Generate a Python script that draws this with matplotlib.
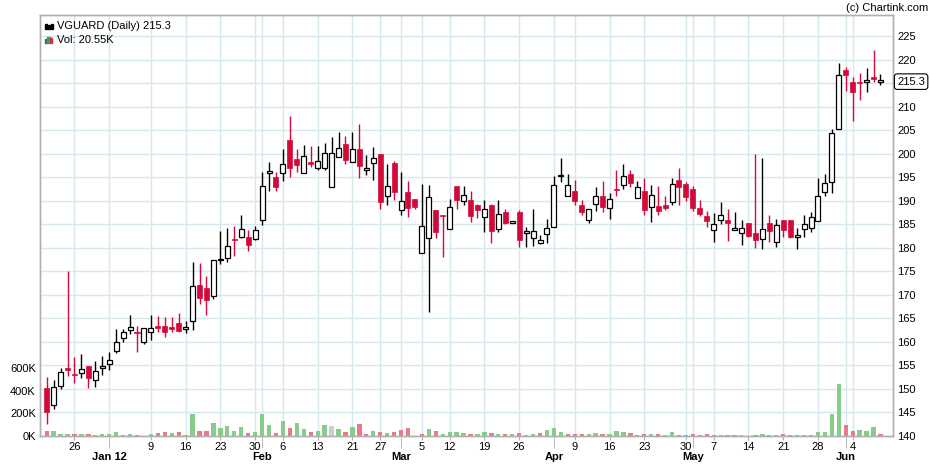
import matplotlib
matplotlib.use("Agg")
import matplotlib.pyplot as plt
from matplotlib.patches import Rectangle
import numpy as np

# daily OHLC (index 0 = first candle)
opens = [150.1, 146.6, 150.7, 154.4, 153.2, 153.34, 154.9, 151.85, 154.4, 155.26,
         158.1, 160.8, 162.5, 162.14, 159.87, 162.07, 163.4, 163.4, 163.0, 163.92,
         162.64, 164.35, 172.16, 171.5, 169.67, 177.4, 177.8, 181.7, 182.3, 182.3,
         181.84, 185.96, 195.96, 195.0, 195.96, 202.98, 198.9, 195.96, 198.3, 196.95,
         196.9, 193.0, 199.3, 202.06, 198.2, 201.0, 196.6, 198.0, 200.0, 191.0,
         198.1, 188.1, 191.9, 190.4, 178.9, 182.1, 188.1, 186.95, 183.97, 193.05,
         190.0, 190.07, 189.0, 186.6, 189.15, 183.97, 187.5, 185.18, 187.7, 183.2,
         182.1, 181.1, 183.0, 184.5, 195.2, 191.06, 192.1, 189.0, 185.96, 189.36,
         191.06, 188.4, 192.55, 193.4, 195.6, 190.6, 192.0, 188.7, 188.8, 189.0,
         189.7, 194.5, 193.5, 192.4, 188.5, 186.8, 183.7, 185.96, 186.0, 183.7,
         183.2, 185.2, 183.1, 181.76, 185.2, 181.2, 185.9, 185.9, 182.25, 183.95,
         184.2, 185.65, 191.95, 194.07, 205.25, 217.8, 215.16, 215.2, 215.16, 216.2,
         215.25]
highs = [152.6, 151.85, 154.4, 175.0, 156.8, 157.4, 154.9, 155.97, 157.0, 157.95,
         162.7, 162.7, 165.77, 163.4, 163.0, 165.77, 165.55, 165.2, 165.2, 166.05,
         164.35, 177.06, 176.7, 173.9, 177.5, 183.6, 184.3, 184.7, 187.0, 183.8,
         184.7, 196.2, 198.3, 196.0, 201.0, 208.1, 201.0, 201.9, 201.7, 201.7,
         202.3, 203.6, 204.7, 203.8, 204.7, 206.2, 199.7, 201.5, 200.0, 197.9,
         198.5, 196.0, 194.1, 190.4, 193.5, 193.4, 188.1, 186.95, 190.4, 193.05,
         193.05, 192.0, 189.2, 190.07, 189.2, 190.07, 188.16, 185.6, 188.0, 184.5,
         188.16, 182.8, 186.2, 195.25, 199.1, 195.6, 194.3, 190.07, 188.3, 192.9,
         194.1, 191.7, 196.45, 197.7, 196.6, 194.2, 194.75, 193.3, 193.05, 191.1,
         194.75, 196.9, 193.9, 193.1, 190.07, 187.9, 187.45, 189.7, 188.16, 187.7,
         185.8, 185.2, 200.0, 199.1, 187.0, 186.1, 185.9, 185.9, 184.2, 187.0,
         187.5, 194.9, 195.7, 205.3, 219.2, 218.5, 216.2, 217.1, 218.1, 222.0,
         216.9]
lows = [142.6, 145.8, 149.9, 152.8, 151.35, 152.4, 150.1, 150.5, 152.9, 153.98,
        157.7, 159.9, 161.65, 157.95, 159.5, 160.5, 162.0, 161.08, 162.07, 162.0,
        161.8, 162.57, 168.04, 165.7, 169.1, 176.5, 176.9, 178.2, 182.06, 179.4,
        181.6, 184.75, 192.1, 192.0, 194.1, 195.1, 196.0, 195.96, 197.1, 196.6,
        196.6, 193.0, 199.2, 197.9, 198.2, 194.8, 195.5, 194.3, 188.2, 189.0,
        190.1, 187.0, 186.5, 188.2, 178.9, 166.45, 182.06, 178.0, 183.97, 188.16,
        189.0, 185.46, 186.3, 183.3, 181.0, 183.3, 185.0, 185.18, 180.1, 180.1,
        180.4, 180.8, 181.06, 184.5, 194.0, 191.06, 189.0, 186.9, 185.25, 187.9,
        187.6, 186.1, 191.06, 192.4, 192.9, 190.6, 186.9, 185.46, 186.95, 188.0,
        189.15, 189.15, 189.9, 187.9, 186.67, 184.5, 181.2, 185.1, 181.4, 183.7,
        180.6, 182.3, 180.0, 179.7, 181.3, 180.06, 182.25, 182.04, 179.7, 182.25,
        183.25, 185.6, 190.9, 191.7, 205.2, 213.4, 207.0, 211.3, 213.2, 215.16,
        214.6]
closes = [145.0, 150.5, 153.55, 153.98, 152.9, 154.26, 152.4, 153.8, 154.9, 156.1,
          160.0, 162.07, 163.14, 161.86, 162.9, 163.0, 162.86, 162.2, 162.78, 162.36,
          163.14, 171.95, 169.25, 168.8, 177.4, 177.5, 180.35, 181.56, 183.97, 180.5,
          183.76, 193.1, 196.05, 192.84, 197.8, 196.9, 197.5, 199.5, 197.7, 198.4,
          200.1, 200.1, 201.2, 198.65, 201.0, 197.4, 196.7, 199.1, 189.7, 193.1,
          191.8, 190.0, 188.4, 188.6, 184.6, 190.8, 183.3, 186.74, 188.7, 190.07,
          191.3, 186.74, 188.0, 188.3, 183.55, 187.1, 185.3, 185.6, 181.6, 183.3,
          183.5, 181.56, 184.26, 193.4, 195.3, 193.4, 189.9, 187.6, 188.3, 191.06,
          188.65, 190.4, 192.2, 195.3, 193.76, 193.0, 188.0, 191.3, 187.8, 188.37,
          193.6, 192.9, 190.8, 188.37, 187.16, 185.67, 185.1, 187.0, 185.3, 184.26,
          184.26, 182.6, 181.7, 184.0, 183.46, 184.9, 183.67, 182.25, 182.75, 185.1,
          186.6, 191.0, 193.7, 204.33, 216.7, 216.65, 213.2, 214.95, 215.7, 215.85,
          215.3]
# volume in thousands
volumes_k = [44, 44, 21, 21, 21, 21, 21, 12, 21, 21,
             35, 12, 21, 12, 3, 21, 29, 38, 29, 38,
             12, 197, 44, 44, 115, 74, 91, 44, 79, 29,
             38, 197, 100, 29, 132, 71, 117, 65, 38, 47,
             100, 88, 62, 38, 79, 109, 21, 47, 38, 29,
             38, 56, 70, 3, 21, 65, 47, 21, 38, 38,
             29, 21, 21, 38, 29, 21, 21, 21, 29, 12,
             21, 29, 56, 73, 38, 21, 21, 21, 21, 29,
             21, 21, 47, 38, 29, 12, 21, 21, 21, 12,
             38, 12, 12, 18, 9, 18, 9, 9, 9, 9,
             9, 2, 9, 18, 9, 9, 18, 9, 9, 9,
             9, 35, 35, 194, 458, 97, 44, 53, 44, 79,
             20.55]

day_ticks = [4, 15, 20, 25, 30, 34, 39, 44, 48, 54, 58, 63, 68, 76, 81, 86, 92, 96,
             101, 106, 111, 116]
day_labels = ["26", "9", "16", "23", "30", "6", "13", "21", "27", "5", "12", "19",
              "26", "9", "16", "23", "30", "7", "14", "21", "28", "4"]
month_ticks = [9, 31, 51, 73, 93, 115]
month_labels = ["Jan 12", "Feb", "Mar", "Apr", "May", "Jun"]

price_ticks = list(range(140, 226, 5))
vol_ticks = [0, 200, 400, 600]

RED = "#d20a3a"
VOL_UP = "#86cd8a"
VOL_DN = "#e97a8e"
VOL_FLAT = "#cccccc"
GRID = "#d6e8ee"
FRAME = "#b0b0b0"

plt.rcParams["font.family"] = ["Liberation Sans", "DejaVu Sans"]
plt.rcParams["font.size"] = 8


def plot_chart(out_path="out.png"):
    o = np.array(opens)
    h = np.array(highs)
    l = np.array(lows)
    c = np.array(closes)
    v = np.array(volumes_k)
    x = np.arange(len(c))

    fig = plt.figure(figsize=(9.3, 4.65), dpi=100)
    ax_v = fig.add_axes([40 / 930, 29 / 465, 853 / 930, 421 / 465])
    ax = ax_v.twinx()

    # volume bars, coloured by change in close
    prev = np.concatenate([[o[0]], c[:-1]])
    vcol = np.where(c > prev, VOL_UP, np.where(c < prev, VOL_DN, VOL_FLAT))
    ax_v.bar(x, v, width=0.62, color=vcol, zorder=2)
    ax_v.set_ylim(0, 3709)
    ax_v.set_yticks(vol_ticks)
    ax_v.set_yticklabels([f"{t}K" for t in vol_ticks])
    ax_v.tick_params(axis="y", length=0, pad=3, labelsize=8)

    # grid lives on the lower axes so it stays under the bars
    ax_v.set_axisbelow(True)
    ax_v.hlines(price_ticks, 0, 1, transform=ax.get_yaxis_transform(),
                color=GRID, lw=1, zorder=0.5)

    ax_v.set_xticks(day_ticks)
    ax_v.set_xticklabels(day_labels)
    ax_v.set_xticks(month_ticks, minor=True)
    ax_v.set_xticklabels(month_labels, minor=True, fontweight="bold")
    ax_v.tick_params(axis="x", which="major", length=3, pad=1.5, color=FRAME, labelsize=8)
    ax_v.tick_params(axis="x", which="minor", length=8.5, pad=3, color=FRAME, labelsize=8)
    ax_v.grid(which="both", axis="x", color=GRID, lw=1)
    ax_v.set_xlim(-0.96, 121.8)

    # candles
    up = c >= o
    body_lo = np.minimum(o, c)
    body_h = np.maximum(np.abs(c - o), 0.3)
    ax.vlines(x[up], l[up], h[up], color="black", lw=1, zorder=2)
    ax.vlines(x[~up], l[~up], h[~up], color=RED, lw=1, zorder=2)
    ax.bar(x[up], body_h[up], bottom=body_lo[up], width=0.72,
           facecolor="white", edgecolor="black", linewidth=0.9, zorder=3)
    ax.bar(x[~up], body_h[~up], bottom=body_lo[~up], width=0.72,
           facecolor=RED, edgecolor=RED, linewidth=0.5, zorder=3)

    ax.set_ylim(140, 229.46)
    ax.set_yticks(price_ticks)
    # the last-price tag sits where the 215 label would be
    ax.set_yticklabels(["" if abs(t - closes[-1]) < 2.5 else str(t) for t in price_ticks])
    ax.tick_params(axis="y", length=0, pad=3, labelsize=8)
    ax.set_xlim(-0.96, 121.8)

    for a in (ax, ax_v):
        for s in a.spines.values():
            s.set_color(FRAME)
            s.set_linewidth(1)

    # last price tag
    ax.annotate(f"{closes[-1]:.1f}", xy=(1, closes[-1]), xycoords=ax.get_yaxis_transform(),
                xytext=(3, 0), textcoords="offset points", ha="left", va="center",
                fontsize=8, annotation_clip=False,
                bbox=dict(boxstyle="round,pad=0.25", fc="white", ec="black", lw=0.8))

    # header texts + little icons
    ax.text(17 / 853, 1 - 11 / 421, f"VGUARD (Daily) {closes[-1]:.1f}",
            transform=ax.transAxes, ha="left", va="center", fontsize=8)
    ax.text(17 / 853, 1 - 25 / 421, f"Vol: {volumes_k[-1]:.2f}K",
            transform=ax.transAxes, ha="left", va="center", fontsize=8)
    for dx, hh, col in [(5, 5, "black"), (8, 4, "black"), (11, 5, "black")]:
        ax.add_patch(Rectangle((dx / 853, 1 - 14 / 421), 2 / 853, hh / 421,
                               transform=ax.transAxes, color=col, clip_on=False))
    for dx, hh, col in [(5, 4, "#336677"), (7.5, 6, "#4a9a5a"), (10, 5, "#cc3344")]:
        ax.add_patch(Rectangle((dx / 853, 1 - 28 / 421), 2.2 / 853, hh / 421,
                               transform=ax.transAxes, color=col, clip_on=False))

    fig.text(928 / 930, 1 - 8 / 465, "(c) Chartink.com", ha="right", va="center", fontsize=8)

    fig.savefig(out_path, dpi=100)
    plt.close(fig)


plot_chart()
